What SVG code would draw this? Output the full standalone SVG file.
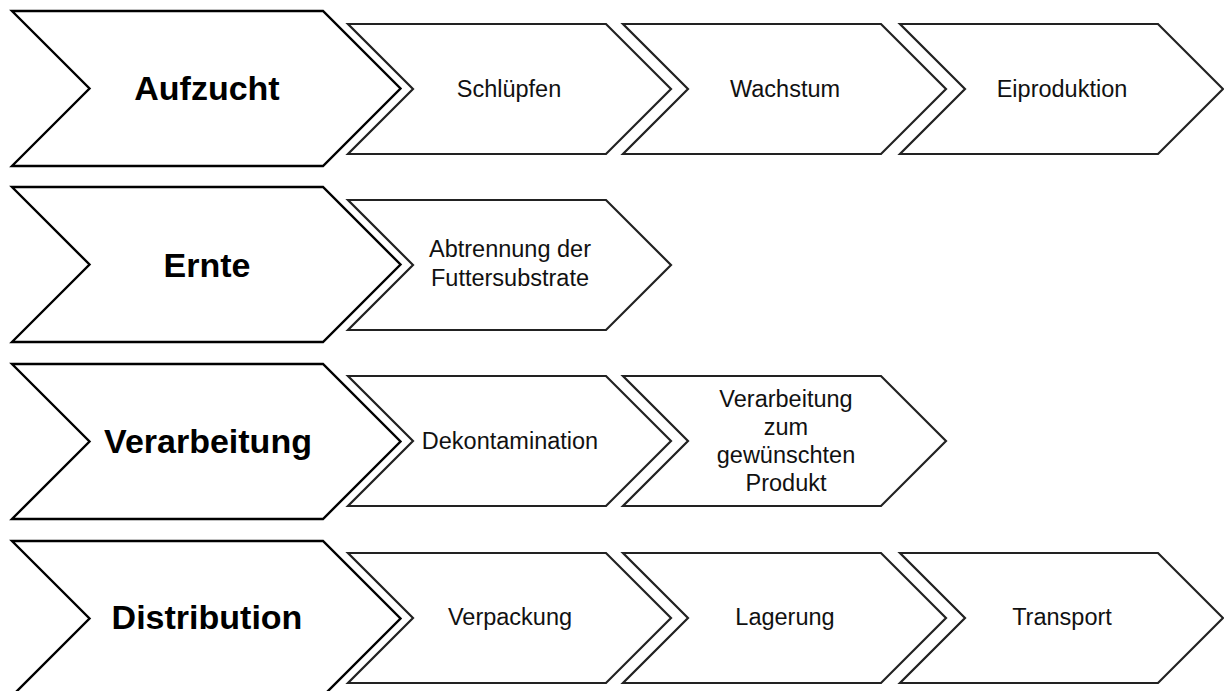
<svg xmlns="http://www.w3.org/2000/svg" xmlns:xlink="http://www.w3.org/1999/xlink" width="1224" height="691" viewBox="0 0 1224 691">
  <style>
    .big { fill: #ffffff; stroke: #000000; stroke-width: 2.4; stroke-linejoin: miter; }
    .small { fill: #ffffff; stroke: #222222; stroke-width: 2.2; stroke-linejoin: miter; }
    .t-big { font-family: "Liberation Sans", Arial, sans-serif; font-weight: bold; font-size: 34px; fill: #000000; text-anchor: middle; }
    .t-small { font-family: "Liberation Sans", Arial, sans-serif; font-size: 23.5px; fill: #111111; text-anchor: middle; }
  </style>
  <defs>
    <polygon id="bigChevron" points="0,0 311,0 388.5,77.5 311,155 0,155 77.5,77.5"/>
    <polygon id="smallChevron" points="0,0 258,0 323,65 258,130 0,130 65,65"/>
  </defs>
  <rect x="0" y="0" width="1224" height="691" fill="#ffffff"/>

  <!-- Row 1 -->
  <g id="aufzucht">
    <use href="#bigChevron" xlink:href="#bigChevron" class="big" x="12" y="11"/>
    <text class="t-big" x="207" y="99.5">Aufzucht</text>
  </g>
  <g id="schluepfen">
    <use href="#smallChevron" xlink:href="#smallChevron" class="small" x="348" y="24"/>
    <text class="t-small" x="509" y="97">Schlüpfen</text>
  </g>
  <g id="wachstum">
    <use href="#smallChevron" xlink:href="#smallChevron" class="small" x="623" y="24"/>
    <text class="t-small" x="785" y="97">Wachstum</text>
  </g>
  <g id="eiproduktion">
    <use href="#smallChevron" xlink:href="#smallChevron" class="small" x="900" y="24"/>
    <text class="t-small" x="1062" y="97">Eiproduktion</text>
  </g>

  <!-- Row 2 -->
  <g id="ernte">
    <use href="#bigChevron" xlink:href="#bigChevron" class="big" x="12" y="187"/>
    <text class="t-big" x="207" y="276.5">Ernte</text>
  </g>
  <g id="abtrennung">
    <use href="#smallChevron" xlink:href="#smallChevron" class="small" x="348" y="200"/>
    <text class="t-small" x="510" y="257">Abtrennung der</text>
    <text class="t-small" x="510" y="286">Futtersubstrate</text>
  </g>

  <!-- Row 3 -->
  <g id="verarbeitung">
    <use href="#bigChevron" xlink:href="#bigChevron" class="big" x="12" y="364"/>
    <text class="t-big" x="208" y="452.5">Verarbeitung</text>
  </g>
  <g id="dekontamination">
    <use href="#smallChevron" xlink:href="#smallChevron" class="small" x="348" y="376"/>
    <text class="t-small" x="510" y="449">Dekontamination</text>
  </g>
  <g id="verarbeitung-produkt">
    <use href="#smallChevron" xlink:href="#smallChevron" class="small" x="623" y="376"/>
    <text class="t-small" x="786" y="407">Verarbeitung</text>
    <text class="t-small" x="786" y="435">zum</text>
    <text class="t-small" x="786" y="463">gewünschten</text>
    <text class="t-small" x="786" y="491">Produkt</text>
  </g>

  <!-- Row 4 -->
  <g id="distribution">
    <use href="#bigChevron" xlink:href="#bigChevron" class="big" x="12" y="541"/>
    <text class="t-big" x="207" y="629">Distribution</text>
  </g>
  <g id="verpackung">
    <use href="#smallChevron" xlink:href="#smallChevron" class="small" x="348" y="553"/>
    <text class="t-small" x="510" y="625">Verpackung</text>
  </g>
  <g id="lagerung">
    <use href="#smallChevron" xlink:href="#smallChevron" class="small" x="623" y="553"/>
    <text class="t-small" x="785" y="625">Lagerung</text>
  </g>
  <g id="transport">
    <use href="#smallChevron" xlink:href="#smallChevron" class="small" x="900" y="553"/>
    <text class="t-small" x="1062" y="625">Transport</text>
  </g>

  <g id="connectors"/>
</svg>
